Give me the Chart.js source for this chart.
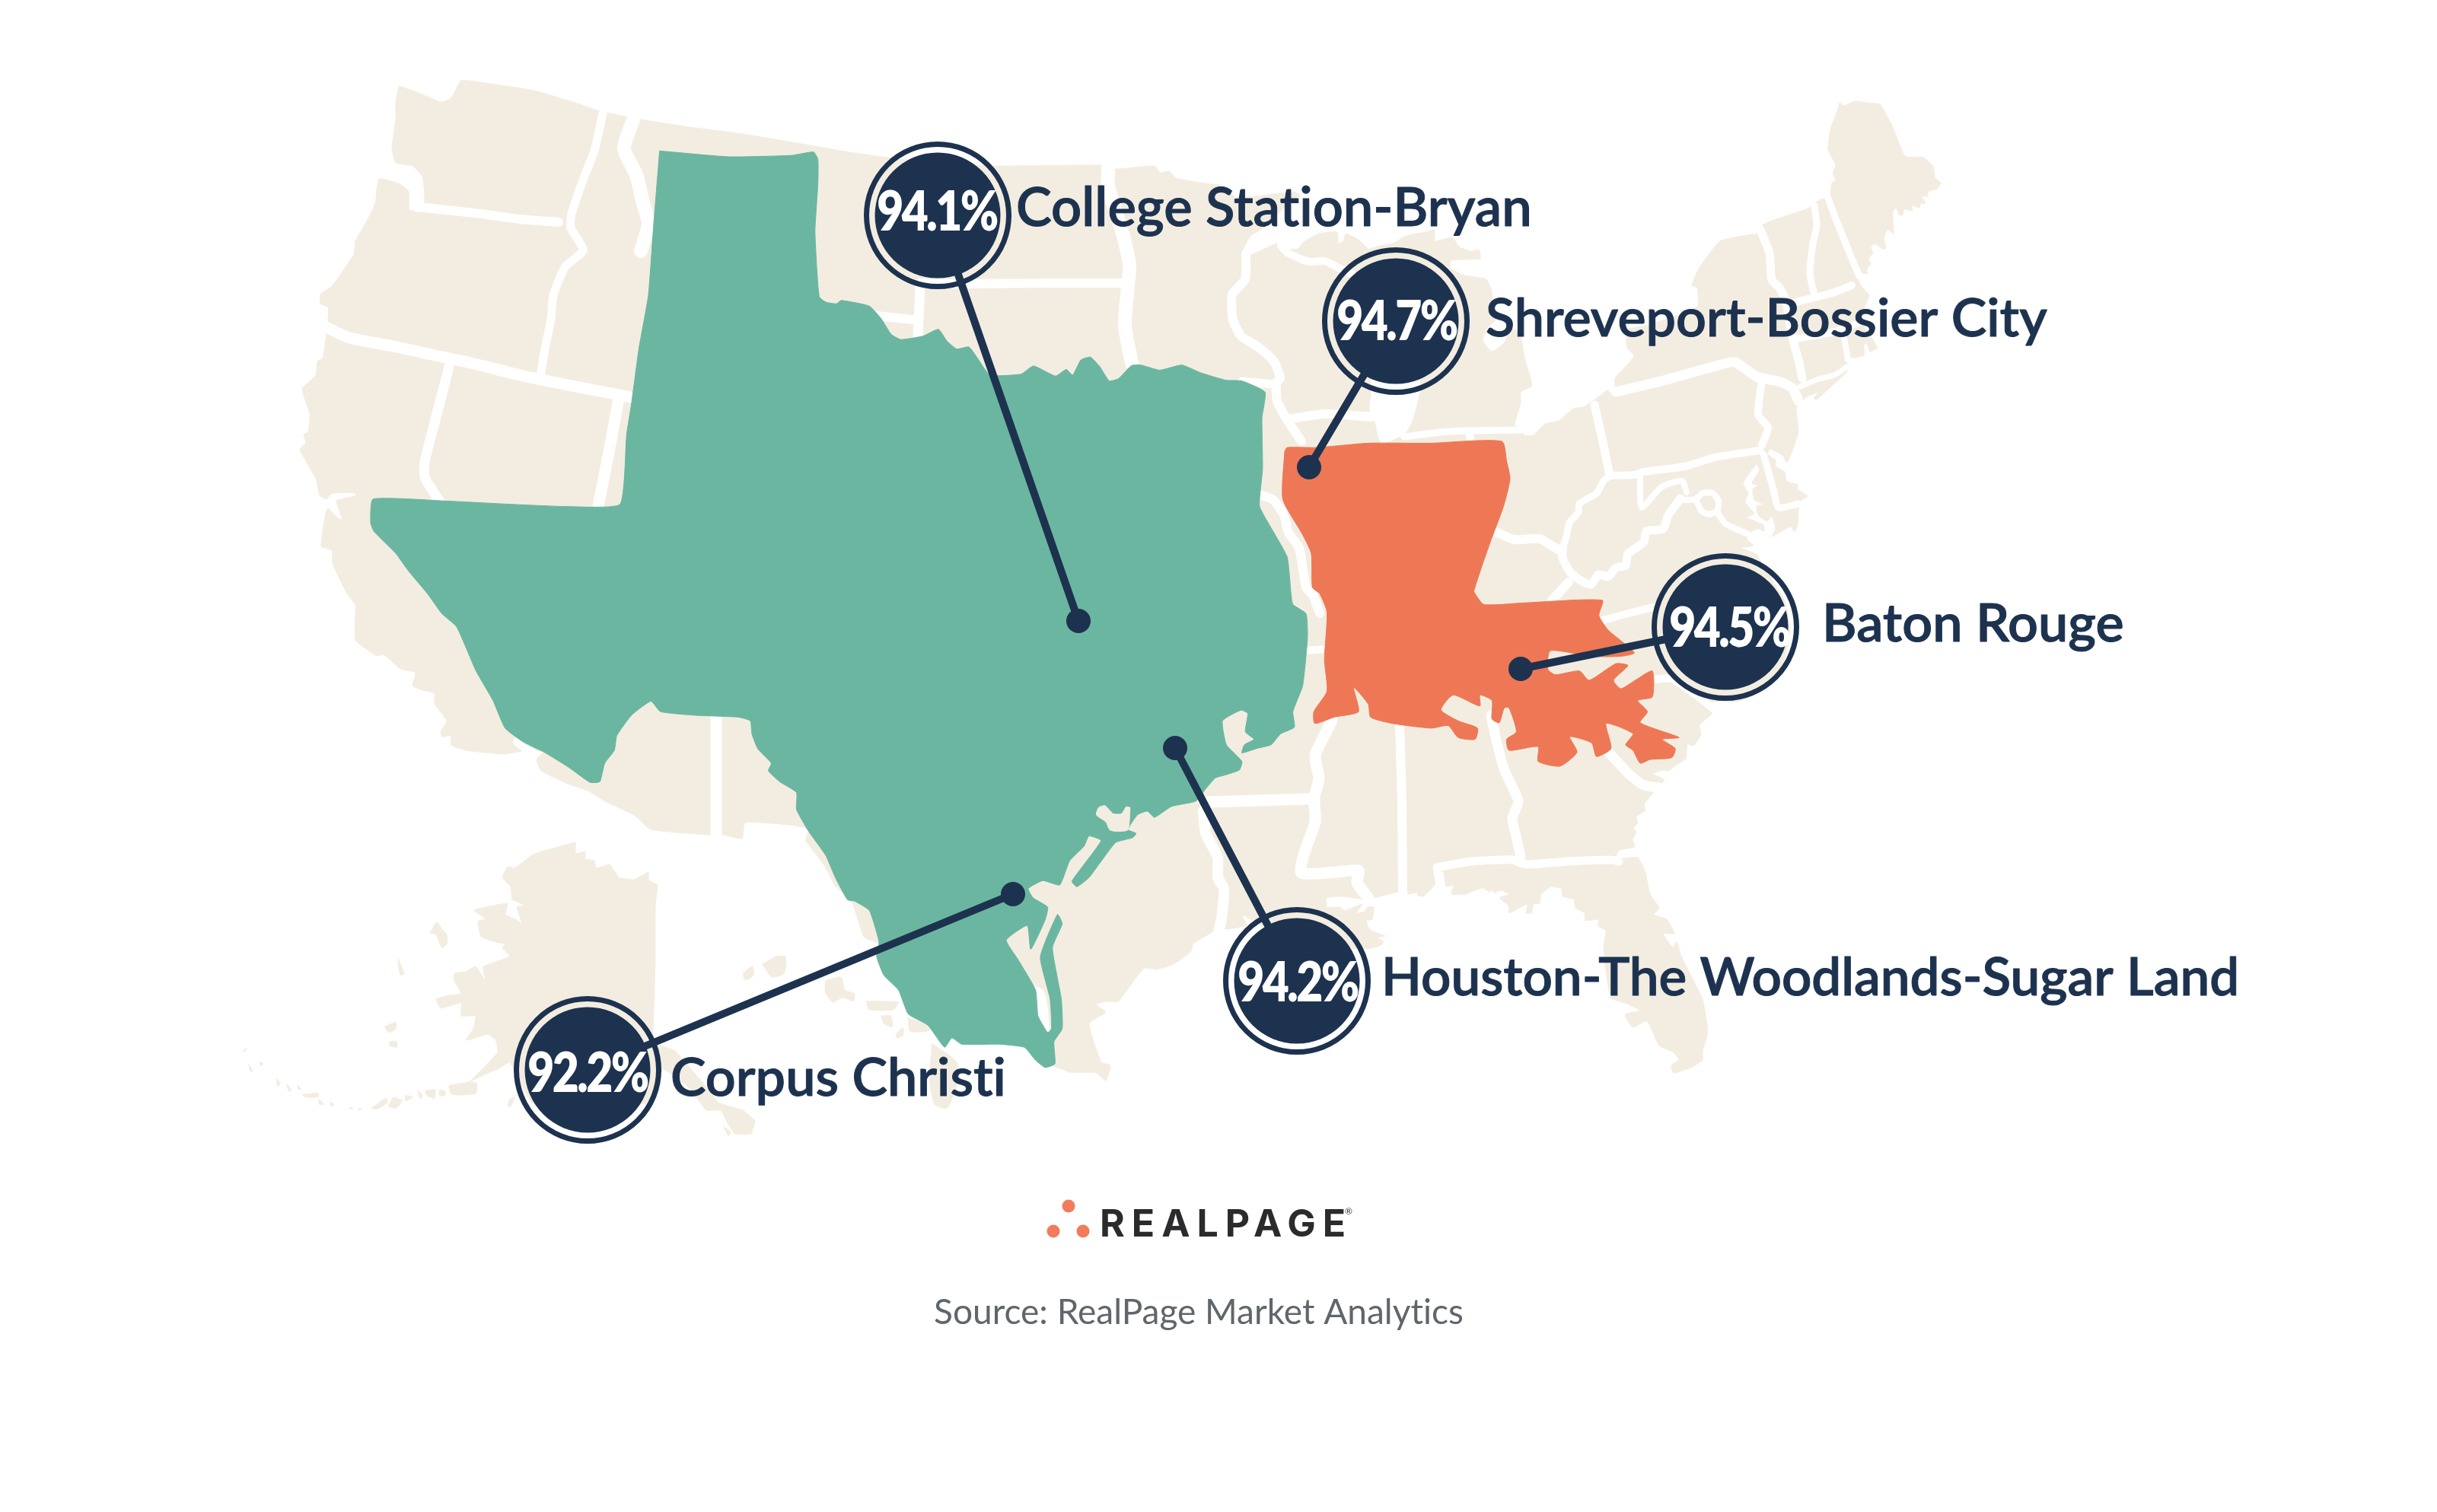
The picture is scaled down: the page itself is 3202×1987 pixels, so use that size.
<!DOCTYPE html>
<html><head><meta charset="utf-8">
<style>html,body{margin:0;padding:0;background:#fff}canvas{display:block}</style>
<script src="https://cdn.jsdelivr.net/npm/chart.js@4/dist/chart.umd.min.js"></script>
</head><body><div style="width:3202px;height:1987px"><canvas id="c" width="3202" height="1987"></canvas></div>
<script>
// ---------- values ----------
const metros   = ["College Station-Bryan","Shreveport-Bossier City","Baton Rouge","Houston-The Woodlands-Sugar Land","Corpus Christi"];
const occupancy= ["94.1%","94.7%","94.5%","94.2%","92.2%"];
const discX = [1232,1834,2267,1704,772];
const discY = [283,422,824,1289,1406];
const dotX  = [1417,1720,1998,1544,1331];
const dotY  = [816,614,879,983,1175];
const labelX = [1335,1952,2394,1815,881];
const labelY = [297,442,843,1308,1440];
const labelSize = [70.4,70,70,69.1,70];
const pctX = [1231,1835,2272,1705,772];
const pctY = [303,447,850,1316,1435];
const sourceText = "Source: RealPage Market Analytics";
const logoText = "REALPAGE";
const logoDotX = [1404,1384,1423];
const logoDotY = [1585,1618,1618];

const usOutline = [524,113,545,120,580,134,593,129,606,106,651,111,702,119,759,136,788,146,842,157,906,167,976,176,1053,189,1116,200,1190,210,1307,218,1445,217,1466,222,1517,218,1524,227,1536,225,1545,234,1590,242,1603,243,1610,250,1627,260,1700,252,1708,257,1693,267,1660,300,1643,310,1632,332,1643,335,1678,320,1687,328,1705,327,1713,318,1733,307,1757,305,1758,320,1765,317,1768,307,1785,315,1798,327,1813,323,1830,320,1847,310,1872,305,1885,302,1885,317,1908,312,1918,325,1933,330,1943,328,1945,340,1907,342,1905,352,1925,362,1953,367,1960,383,1965,420,1955,430,1948,447,1960,462,1977,450,1985,432,1997,437,2003,470,2013,507,1998,515,1998,530,1990,558,2000,565,2002,572,2015,572,2030,557,2048,553,2067,537,2080,535,2088,530,2102,520,2112,513,2123,522,2122,497,2135,483,2147,468,2138,457,2138,433,2163,428,2230,403,2230,378,2223,375,2232,353,2260,317,2300,308,2307,308,2318,294,2375,274,2390,263,2397,261,2404,257,2407,240,2412,237,2408,228,2412,217,2402,197,2405,170,2415,143,2417,135,2423,139,2437,133,2452,135,2470,137,2487,167,2503,205,2527,207,2540,218,2542,233,2550,241,2545,248,2533,252,2533,258,2525,258,2530,267,2523,268,2522,273,2512,270,2513,277,2502,275,2500,283,2495,282,2492,273,2487,277,2488,307,2480,302,2475,313,2478,325,2475,328,2463,320,2458,325,2461,333,2455,340,2458,347,2453,353,2453,360,2446,359,2442,367,2442,369,2447,378,2456,388,2450,403,2447,425,2467,457,2457,462,2453,451,2449,453,2449,467,2437,470,2427,470,2427,488,2407,507,2387,525,2383,523,2390,515,2373,522,2365,530,2360,537,2363,567,2357,587,2348,608,2342,598,2325,590,2323,597,2333,605,2333,613,2345,620,2347,632,2362,637,2362,643,2375,652,2367,657,2363,670,2362,690,2358,699,2353,692,2328,705,2333,695,2328,678,2322,685,2310,677,2308,665,2317,663,2305,657,2303,643,2310,638,2302,635,2312,617,2308,610,2290,635,2297,648,2293,660,2305,675,2295,680,2317,690,2318,698,2310,695,2302,698,2295,708,2304,717,2287,720,2308,728,2312,735,2345,790,2352,830,2340,880,2300,915,2283,922,2250,922,2250,937,2233,953,2235,965,2225,980,2217,978,2215,997,2203,1005,2192,1013,2185,1012,2172,1017,2187,1025,2180,1032,2168,1047,2160,1057,2162,1065,2150,1073,2152,1082,2146,1088,2150,1093,2145,1103,2148,1113,2128,1117,2123,1126,2133,1128,2152,1127,2162,1147,2168,1175,2180,1193,2173,1202,2190,1208,2200,1227,2185,1227,2198,1245,2203,1238,2209,1257,2237,1313,2244,1357,2237,1381,2237,1393,2222,1403,2199,1410,2196,1400,2206,1393,2199,1383,2180,1374,2164,1342,2145,1350,2135,1333,2155,1328,2135,1318,2116,1311,2107,1245,2110,1223,2100,1217,2100,1208,2083,1210,2082,1200,2070,1193,2068,1182,2053,1178,2052,1168,2038,1165,2025,1175,2023,1187,2015,1188,2012,1200,2005,1200,2007,1188,1983,1200,1982,1190,1970,1180,1983,1175,1972,1170,1963,1173,1963,1163,1973,1162,1957,1172,1948,1167,1933,1172,1927,1175,1907,1175,1910,1163,1900,1165,1897,1147,1895,1145,1885,1163,1870,1178,1863,1177,1862,1173,1850,1175,1838,1172,1817,1177,1805,1180,1793,1182,1763,1178,1743,1180,1743,1192,1760,1192,1767,1197,1790,1188,1782,1200,1793,1198,1797,1192,1805,1192,1803,1208,1795,1210,1800,1222,1820,1230,1810,1232,1818,1237,1815,1242,1797,1247,1700,1240,1632,1202,1638,1216,1609,1221,1597,1211,1595,1223,1568,1240,1565,1250,1542,1267,1520,1274,1504,1272,1491,1287,1469,1316,1453,1316,1440,1320,1453,1330,1431,1345,1447,1396,1459,1400,1453,1420,1440,1410,1405,1409,1396,1405,1383,1400,1370,1300,1155,1240,1135,1231,1120,1187,1097,1163,1081,1134,1059,1105,1062,1090,1046,1085,979,1081,975,1102,949,1097,931,1097,855,1090,833,1071,797,1054,772,1039,746,1030,711,1013,705,998,715,988,692,986,663,991,612,986,593,979,592,967,581,968,579,962,587,947,571,925,571,911,555,907,542,901,546,884,526,879,504,860,495,862,467,841,467,795,456,780,437,741,436,723,422,718,428,674,431,668,443,680,450,683,442,658,467,652,467,648,437,648,428,656,420,651,415,629,394,591,402,582,399,571,405,567,407,544,397,511,415,493,417,475,424,471,429,439,431,421,431,404,421,399,421,387,437,375,465,334,467,317,485,285,493,267,498,235,526,242,537,252,538,276,556,276,558,259,555,232,542,218,520,214,515,196,520,156,520,134];

const alaskaOutline = [864,1163,861,1192,861,1265,858,1362,861,1371,887,1381,925,1425,944,1449,976,1459,992,1473,986,1490,966,1490,957,1478,947,1459,928,1459,906,1430,871,1405,850,1450,700,1450,670,1396,654,1405,641,1410,616,1422,590,1427,593,1438,622,1437,600,1437,590,1427,616,1422,654,1383,651,1366,641,1359,625,1364,612,1367,622,1352,625,1335,606,1335,606,1318,579,1325,573,1313,590,1308,606,1306,597,1289,597,1279,612,1277,625,1270,638,1289,635,1270,670,1257,660,1245,676,1231,664,1240,651,1238,632,1231,628,1211,638,1207,622,1196,667,1187,664,1202,679,1209,686,1214,679,1192,690,1190,673,1182,671,1165,660,1153,667,1139,676,1141,702,1122,737,1112,756,1107,756,1122,769,1119,769,1129,781,1131,783,1141,801,1136,813,1153,833,1156,852,1146,852,1156];

// small islands (Aleutians, Kodiak, Hawaii), read at crop scale
const isles = [
 [415,920,430,890,440,910,450,925,450,950,440,960,428,925],[350,990,362,1030,355,1035,350,1010],[322,1175,345,1162,345,1180,330,1190],[332,1215,347,1215,347,1230,332,1225],
 [30,1240,38,1232,33,1243],[42,1275,50,1295,45,1295],[65,1270,72,1275,65,1280],[100,1315,107,1330,100,1335],[120,1330,130,1345,125,1350],[143,1332,150,1345,143,1342],
 [152,1358,185,1355,185,1365,160,1365],[187,1370,197,1385,187,1385],[212,1378,218,1388,210,1388],[252,1392,257,1397,250,1397],[270,1395,275,1398,268,1400],
 [295,1395,325,1368,328,1380,305,1398],[340,1365,358,1375,345,1395,330,1390],[365,1360,380,1365,365,1375],[390,1345,400,1360,395,1370],[405,1348,425,1345,425,1368,410,1362],[435,1345,447,1350,445,1362,435,1360],
 [455,1335,510,1325,510,1355,460,1358],[580,1370,590,1365,582,1390,575,1390],[1020,1445,1035,1460,1030,1470],[1075,1435,1080,1445,1078,1465,1073,1460],
 [1060,1030,1080,1010,1082,1035,1065,1048],[1100,1005,1130,983,1148,985,1145,1030,1120,1040],[1230,1050,1262,1040,1270,1075,1290,1085,1288,1105,1265,1095,1245,1108,1230,1080],
 [1315,1105,1380,1108,1370,1128,1320,1128],[1345,1145,1365,1145,1368,1175,1350,1165],[1375,1195,1390,1178,1390,1198,1378,1205],[1400,1150,1440,1170,1445,1185,1405,1187],
 [1450,1220,1500,1270,1500,1340,1480,1395,1455,1385,1445,1320]
];

const lakeMichigan = [1802,518,1800,540,1807,555,1815,582,1845,570,1855,553,1864,518,1864,440,1802,440];

// white gaps between the states
const stateGaps = [
 [549,240,549,272],[549,272,587,276,632,281,683,288,734,292],[792,149,781,198,767,234,751,281,750,299,766,329,743,350,727,388,724,419,715,464,710,495],
 [429,430,459,444,517,455,571,467,619,477,683,493,746,506,804,517,829,522],[590,482,568,567,558,607,558,627,577,658],[680,975,700,990],[812,529,801,589,786,665],
 [832,157,820,195,836,230,845,267,852,294,842,330],[1209,375,1206,442],[1151,415,1199,420],[1208,372,1267,373,1400,372,1482,372],
 [1456,221,1456,245,1474,303,1484,348,1482,375,1478,428,1487,477],[941,944,941,1097,941,1097],[1637,333,1636,367,1619,387,1620,420,1631,442,1647,452,1662,463,1675,477,1682,497,1677,503,1678,527,1692,553,1710,580],
 [1683,323,1693,333,1720,344,1740,343,1763,354,1777,360],[1632,501,1673,505],[1698,550,1740,544,1803,548],[1845,574,1893,568,1930,566,2000,565],[1930,566,1933,582],
 [1963,698,1990,709,2023,708,2047,722,2053,720],[2053,720,2058,705,2062,687,2074,673,2075,662,2098,648,2107,632,2115,625],[2095,532,2103,567,2110,600,2115,625],
 [2115,625,2147,624,2160,620,2213,613,2253,601,2312,592],[2315,500,2310,545,2323,562,2315,585],[2123,515,2182,501,2247,483,2279,476,2308,495,2340,502,2355,510,2363,527],
 [2313,302,2325,333,2328,368,2338,378,2347,397,2355,443,2363,473,2368,497],[2365,508,2390,498,2410,493,2427,482],[2384,270,2387,297,2382,320,2378,360,2384,388],[2401,258,2413,290,2432,337,2443,363],
 [2360,397,2407,385,2433,375],[2362,445,2407,437,2427,430,2442,425],[2423,443,2428,472],[2317,597,2330,643,2337,667,2363,662],[2155,627,2157,667,2183,640,2210,632,2216,647],
 [2208,655,2192,677,2185,695,2163,698,2160,712,2139,728,2136,743,2123,746,2113,758,2100,755,2091,768,2077,763,2063,752,2053,733,2053,723],[2061,765,2039,789],
 [2210,657,2228,656,2237,648,2250,648,2258,658,2256,672,2246,676,2236,672,2228,656],[2256,672,2267,688,2297,702],[2107,815,2132,808,2172,798],[2172,893,2197,892,2233,917,2253,933],
 [2112,987,2140,1017,2160,1032,2180,1035],[1959,940,1967,977,1977,1013,1995,1053,1987,1075,1993,1103,1998,1127],[1888,1140,1933,1132,1987,1130,2005,1136,2060,1132,2117,1130,2127,1132],[1839,952,1842,1053,1843,1175],
 [1888,1143,1892,1165],[1750,947,1728,993,1733,1023,1727,1047,1727,1057,1728,1080,1713,1123,1710,1147,1757,1146,1785,1144,1783,1160,1798,1180],[1587,1054,1718,1050],
 [1581,1066,1584,1095,1600,1127,1600,1153,1608,1168,1605,1207,1601,1224],[1655,650,1673,657,1687,677,1693,700,1707,720,1716,772,1725,782,1734,806],[1715,855,1742,853]
];
const gapWidths = [14,12,11,15,13,12,15,18,13,12,12,18,15,12,10,11,12,9,10,12,9,11,10,10,13,11,7,9,9,10,9,8,9,8,11,12,8,8,10,10,13,13,11,12,10,15,15,14,12,10];

// Texas and Louisiana, read at overview scale
const texasOutline = [424.4,97.1,468.8,100.9,509.4,100,523.5,97.8,526.3,102.6,526.3,117.9,524.4,148.5,525.7,174.8,527.2,191.1,531.3,194.4,538.2,195.5,541.3,193.3,559.4,197,567.2,205.4,573.5,215.2,579.7,218.5,593.8,216.3,603.8,211.9,609.4,219.6,615.6,224.6,623.5,223.3,629.7,231.6,636.9,241.4,656.9,240.8,665,235.5,679.2,242,686.1,237.7,690.2,241.4,695.5,231.6,701.6,229.8,707.7,236,713.7,245.1,719.8,243.6,728,235.3,734,234.9,746.2,238.2,760.4,234.9,772.6,239.9,788.9,244.7,799,245.1,814,252.4,812,268.8,812.4,301.6,810.4,325.6,817.3,338.7,828.2,358.4,830.7,382,831.9,389,840.4,395,841.3,410.5,838.2,441.3,831.9,458,832.9,468,824.1,472.2,817.9,479.3,808.5,481.7,799.1,484.5,800.7,479.3,806.9,475.8,801.3,471,802.9,459.1,798.5,457,786.6,463.9,789.1,479.3,799.1,490,797.5,495.5,788.2,498.8,781.9,500.7,775.7,507.8,769.4,515.6,753.8,519,742.9,526,738.2,522,731.9,524.4,725.7,533.9,731,536.3,728.8,539.1,717.9,542.2,706.9,556.5,700.7,564.8,692.9,570.7,689.7,567.1,708.5,541,700.7,538,697.5,544.6,688.2,554.1,681.9,569.5,671,566.7,661.6,571.9,664.7,577.8,674.1,583.8,672.5,592,663.2,611,661,595.6,647.5,605,654.7,617,666.3,637,667.9,653.8,674.1,664.5,676.6,662,675.7,643,669.4,615.8,680.4,588.5,683.5,594.4,677.2,609.9,682.9,643,683.5,662,678.2,670.4,678.8,684.6,672.5,687,666.3,682.3,659.1,674,642.9,672,618.8,672,612.5,668,607.8,674,596.9,659.7,584.4,652.6,578.2,637.2,568.8,627.7,564.1,615.8,565.6,606.3,559.4,586,550,580,545.3,579,537.5,564.8,531.3,550.5,520.3,535,512.5,520.9,512.5,510,501.6,503,494.4,496,496.3,491.2,487.5,481.7,483.8,472.2,482.8,463.9,475,461.5,446.9,460.3,425,458,418.8,451.3,406.3,460.3,396.9,473.4,395.3,482.9,389.1,491.2,386,503,379.7,503.5,365.6,493.6,350,484,337.5,478,325,468.6,317.2,450.8,306.3,431.8,293.8,403.4,284.4,395,275,382,262.5,367,254.7,356.2,240.6,342,238.5,336.5,240,321.2,284.4,322.3,328.2,324.5,365.7,326,399,324.5,403.2,279.7,406.3,260,411,225,417.2,190,420.3,148.5];
const louisianaOutline = [826.6,290.6,828.2,288,847.7,288,880.2,285.2,920.8,285.2,966.3,284,969.5,297.2,971.6,308.1,967.5,325.6,959.4,347.5,953.3,365,948.4,380.3,949.1,382,954.7,389,980.4,388,1031,386.3,1028.8,396.2,1035,405.7,1051.6,420,1042.9,422.4,1024.1,422.4,997.5,418.8,996,430.7,1000.7,434.2,1016.3,431.8,1022.5,437.8,1039.7,427.1,1047.5,428.3,1038.2,437.8,1042.9,443.2,1052.2,437.8,1063.2,431.8,1063.2,448.5,1053.8,450.8,1060,458,1055.4,465.1,1080.4,474.6,1069.4,475.8,1077.9,481.7,1075.7,487.6,1061.6,488.8,1055.4,491.2,1050.7,482.9,1046,479.3,1050.7,472.2,1033.5,465.6,1036.6,481.7,1027.2,486.9,1024.1,478.1,1010,474.1,1014.7,484.1,1003.8,493.1,989.7,490,989.7,480.5,971,482.9,969.4,475.8,975.7,471,971,455.6,967.9,455.6,964.7,465.1,960,462.7,960,450.8,952.2,447.3,952.2,454.4,935,447.3,927.2,456.8,938.2,463.9,950.7,468.6,949.1,475.8,938.2,474.6,931.9,467,921,468.6,896,465.6,881.9,461.5,880.4,453.2,871,442.5,874.1,458,858.5,461.5,846,465.6,845.4,458,853.8,444.9,852.2,424.7,853.8,393.9,849.1,382,844.5,378,843.7,356.2,837.6,343.1,825.4,321.2];
const galvestonBay = [727.2,519.7,725.7,534,717.9,535,714,534,711.6,529,705.4,524.4,706.9,519.7,711,518.5,716.3,523.7,721.6,523.7,724.7,519.2];

// ---------- drawing ----------
const CREAM='#F3EDE1', TEAL='#6BB6A0', CORAL='#EE7855', NAVY='#1D324F', DOTC='#F27B5A';
const toPoints = (a,f=(x,y)=>({x,y}))=>{const o=[];for(let i=0;i<a.length;i+=2)o.push(f(a[i],a[i+1]));o.push(o[0]);return o;};
const toLine = a=>{const o=[];for(let i=0;i<a.length;i+=2)o.push({x:a[i],y:a[i+1]});return o;};
const OV=2.042;
const fromOverview=(x,y)=>({x:x*OV,y:y*OV});
const fromCrop=(x,y)=>({x:300+x/1.568,y:780+y/2.063});
const shape=(data,color,t)=>({type:'scatter',data,showLine:true,fill:'shape',backgroundColor:color,borderColor:color,borderWidth:1,pointRadius:0,tension:t,borderJoinStyle:'round'});
const stroke=(data,color,w,t)=>({type:'scatter',data,showLine:true,fill:false,borderColor:color,backgroundColor:color,borderWidth:w,pointRadius:0,tension:t,borderJoinStyle:'round',borderCapStyle:'round'});
const dots=(xs,ys,r,fill,line,lw)=>({type:'scatter',data:xs.map((x,i)=>({x,y:ys[i]})),showLine:false,pointRadius:r,pointHoverRadius:r,pointBackgroundColor:fill,pointBorderColor:line,pointBorderWidth:lw});

const layers=[
 shape(toPoints(usOutline),CREAM,0.15),
 shape(toPoints(alaskaOutline),CREAM,0.1),
 ...isles.map(a=>shape(toPoints(a,fromCrop),CREAM,0.2)),
 shape(toPoints(lakeMichigan),'#FFFFFF',0.2),
 ...stateGaps.map((a,i)=>stroke(toLine(a),'#FFFFFF',gapWidths[i],0.2)),
 shape(toPoints(texasOutline,fromOverview),TEAL,0.15),
 shape(toPoints(galvestonBay,fromOverview),CREAM,0.2),
 shape(toPoints(louisianaOutline,fromOverview),CORAL,0.2),
 ...discX.map((x,i)=>stroke([{x,y:discY[i]},{x:dotX[i],y:dotY[i]}],NAVY,10,0)),
 dots(dotX,dotY,16,NAVY,NAVY,0),
 dots(discX,discY,93.5,'rgba(0,0,0,0)',NAVY,7),
 dots(discX,discY,82.5,NAVY,NAVY,0),
 dots(logoDotX,logoDotY,8.5,DOTC,DOTC,0)
];
layers.forEach((d,i)=>{d.order=layers.length-i;});

const textPlugin={id:'mapText',afterDatasetsDraw(chart){
  const {ctx,scales:{x,y}}=chart;
  const put=(s,px,py,font,color,align,ls,sx,bold)=>{ctx.save();ctx.font=font;ctx.fillStyle=color;ctx.strokeStyle=color;ctx.textAlign=align;ctx.textBaseline='alphabetic';ctx.letterSpacing=ls||'0px';ctx.lineJoin='round';
    ctx.translate(x.getPixelForValue(px),y.getPixelForValue(py));ctx.scale(sx||1,1);ctx.fillText(s,0,0);if(bold){ctx.lineWidth=bold;ctx.strokeText(s,0,0);}ctx.restore();};
  metros.forEach((m,i)=>{
    put(m,labelX[i],labelY[i],'600 '+labelSize[i]+'px Lato',NAVY,'left','0.01px',1,1);
    put(occupancy[i],pctX[i],pctY[i],'800 72px Lato','#FFFFFF','center','-3px',0.84);
  });
  put(logoText,1445,1625,'700 50px Inter','#2B2B2D','left','9px');
  put('®',1772,1596,'400 12px Lato','#2B2B2D','center');
  put(sourceText,1575,1740,'400 46px Lato','#60666B','center','0.01px');
}};

document.fonts.load('600 68px Lato').finally(()=>{
new Chart(document.getElementById('c'),{
  type:'scatter',
  data:{datasets:layers},
  plugins:[textPlugin],
  options:{
    responsive:false,animation:false,devicePixelRatio:1,
    layout:{padding:0,autoPadding:false},
    events:[],
    scales:{x:{type:'linear',min:0,max:3202,display:false},y:{type:'linear',min:0,max:1987,reverse:true,display:false}},
    plugins:{legend:{display:false},tooltip:{enabled:false}}
  }
});
});
</script></body></html>
